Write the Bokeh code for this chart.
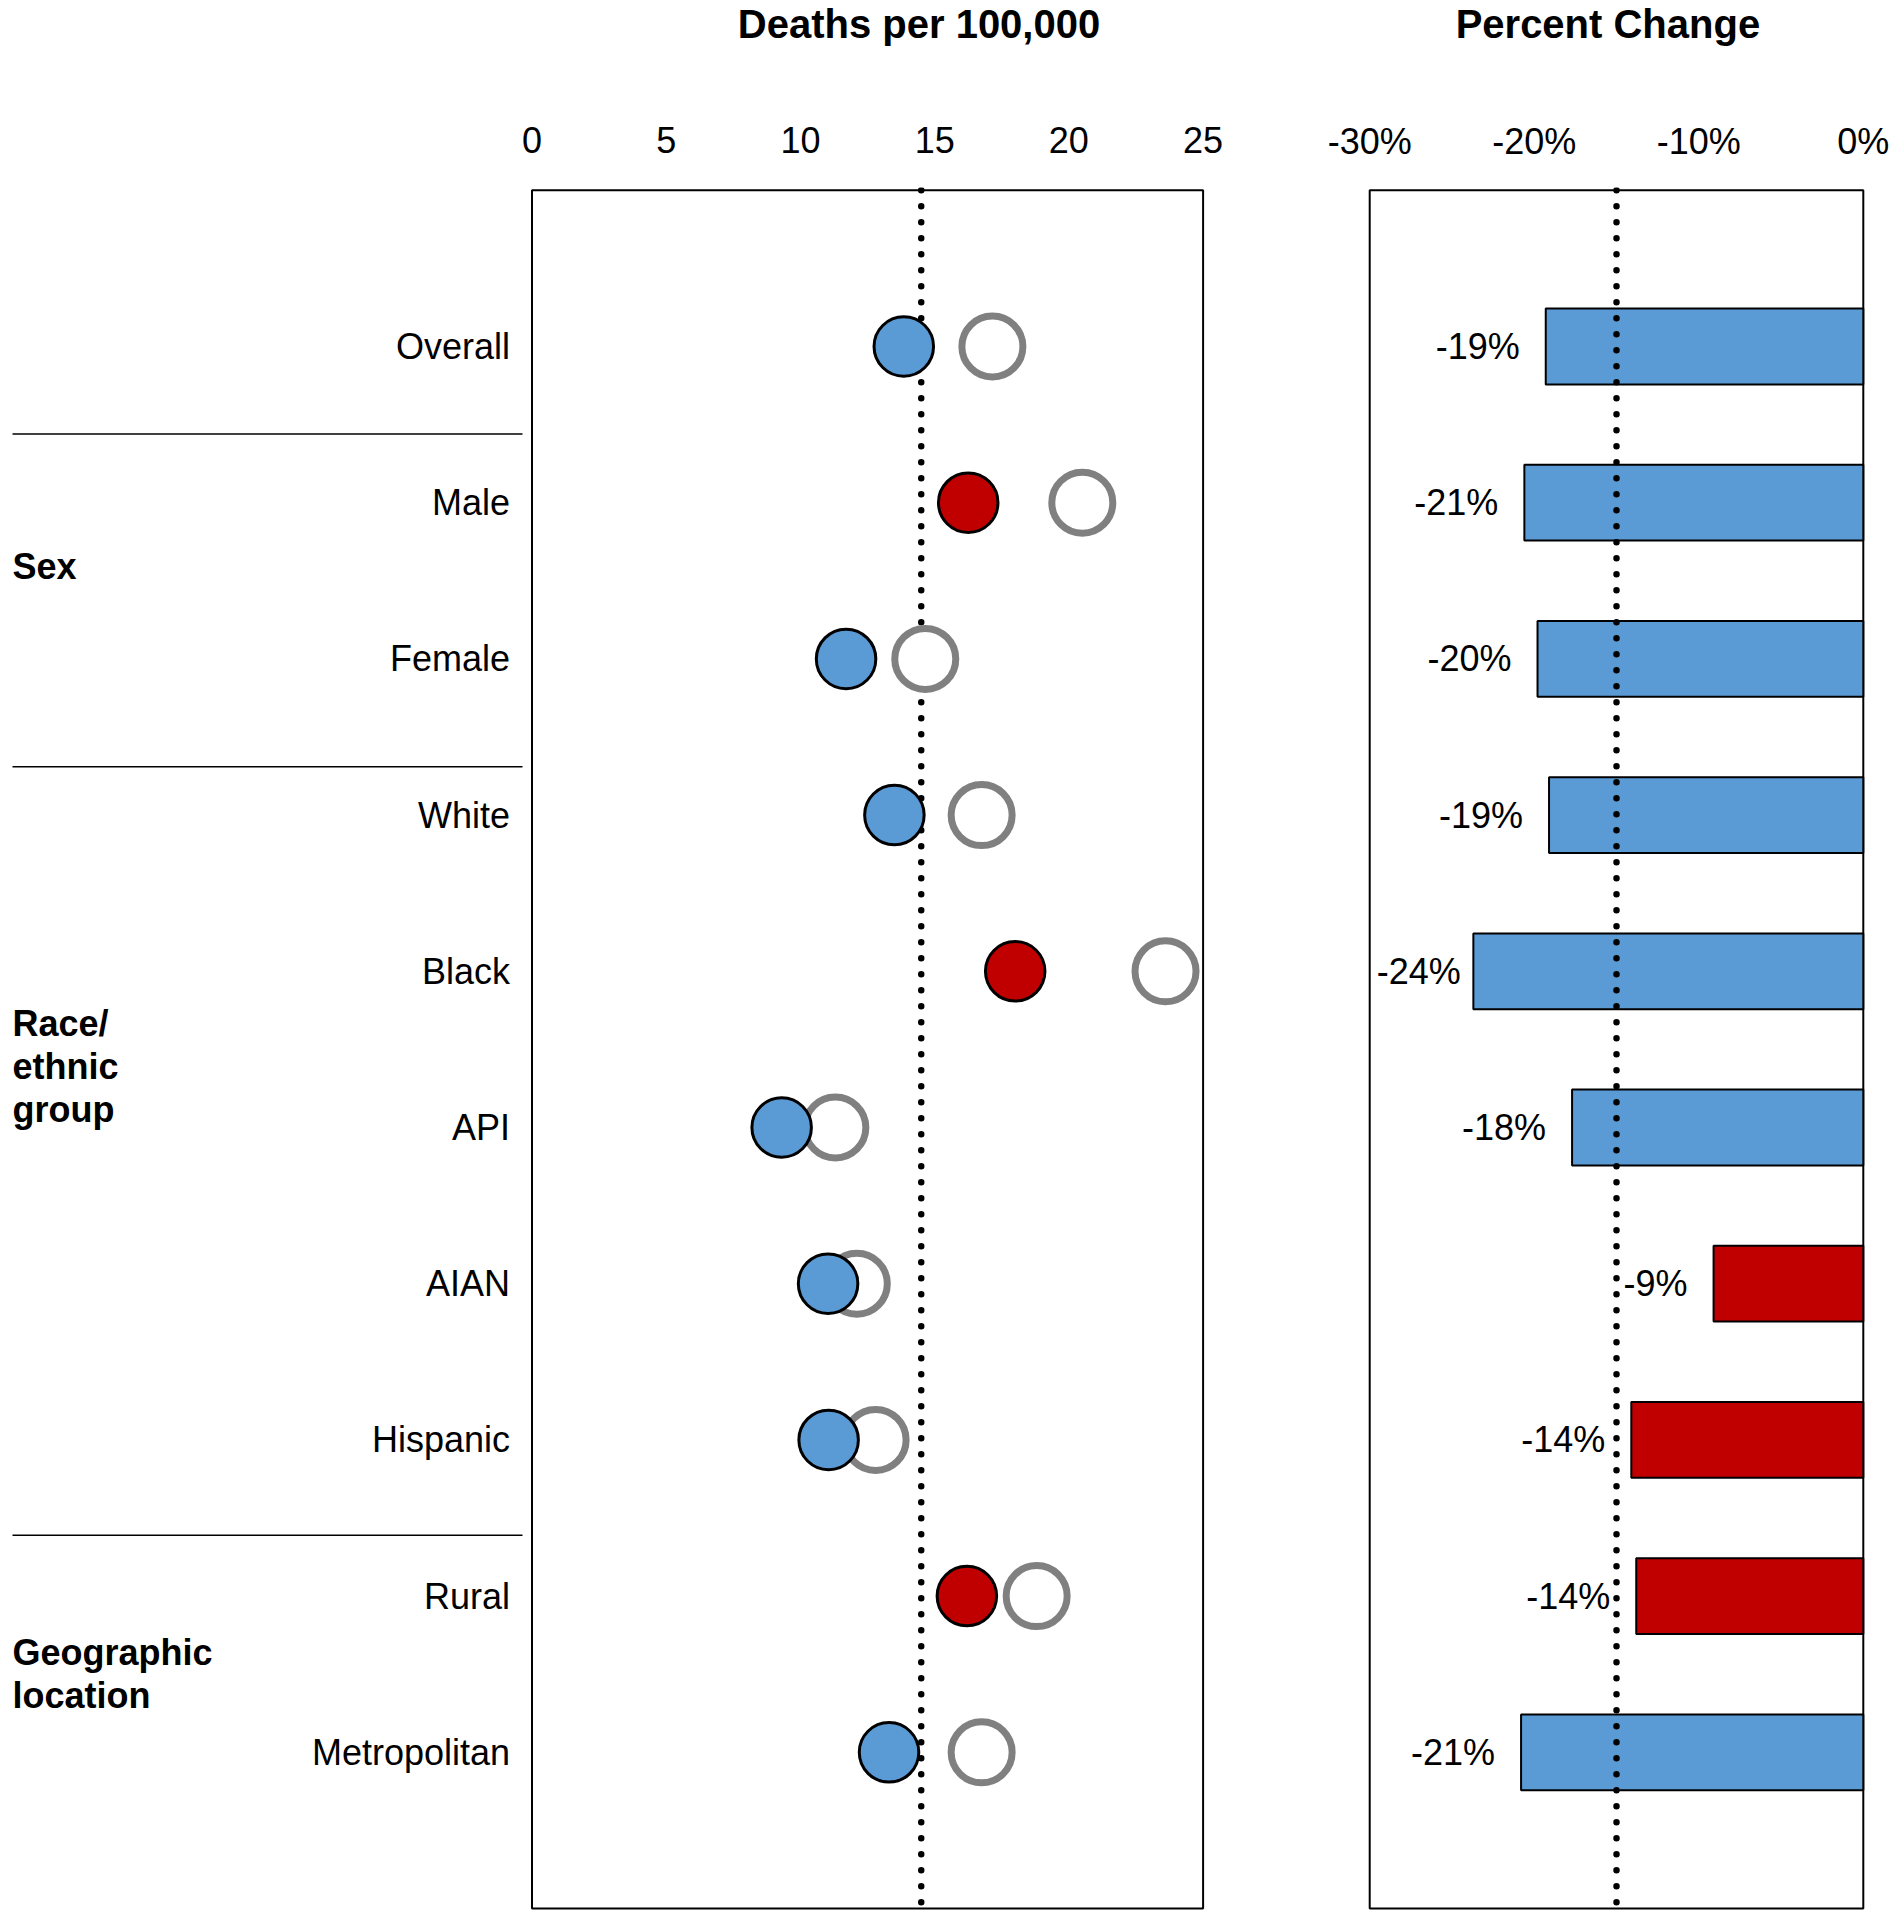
from bokeh.plotting import figure
from bokeh.models import Range1d, FixedTicker, PrintfTickFormatter, ColumnDataSource
from bokeh.layouts import row, column
from bokeh.embed import file_html
from bokeh.resources import INLINE
from bokeh.core.properties import value

# ---------------- data ----------------
categories = ["Overall", "Male", "Female", "White", "Black", "API", "AIAN",
              "Hispanic", "Rural", "Metropolitan"]
rate_recent = [13.85, 16.25, 11.7, 13.5, 18.0, 9.3, 11.03, 11.05, 16.2, 13.3]
rate_earlier = [17.15, 20.5, 14.65, 16.75, 23.6, 11.3, 12.1, 12.8, 18.8, 16.75]
pct_change = [-19.3, -20.6, -19.8, -19.1, -23.7, -17.7, -9.1, -14.1, -13.8, -20.8]
rate_reference = 14.5
pct_reference = -15
rate_ticks = [0, 5, 10, 15, 20, 25]
pct_ticks = [-30, -20, -10, 0]
group_labels = ["Sex", "Race/\nethnic\ngroup", "Geographic\nlocation"]
titles = ["Deaths per 100,000", "Percent Change"]

# ---------------- layout constants (page pixels) ----------------
GROUP_LABEL_ROWS = [1.41, 4.61, 8.5]
SEPARATOR_ROWS = [0.56, 2.69, 7.61]
BLUE, RED, GRAY = "#5B9BD5", "#C00000", "#808080"
FONT = "Liberation Sans"
PAGE_W = 1897
TITLE_H = 60                    # height of the title strip
TITLE_CX = [918.5, 1607.4]      # page x of title centres
TITLE_CY = 23                   # page y of title centres
BOX_TOP, BOX_BOTTOM = 189.8, 1908.0
FRAME_TOP, FRAME_BOTTOM = 187, 1910
L_FRAME_L, L_FRAME_R = 8, 1206
L_ZERO, L_MAX = 531.5, 1202.6
R_FRAME_L, R_FRAME_R = 1366, 1866
R_MIN, R_ZERO = 1369.2, 1862.8
L_BORDER_R = 40
R_BORDER_R = PAGE_W - R_FRAME_R
SEP_X0, SEP_X1 = 12, 522
GROUP_X = 12

n = len(categories)
rows = list(range(n))

ppr = (BOX_BOTTOM - BOX_TOP) / (n + 1)
y_top = -1 - (BOX_TOP - FRAME_TOP) / ppr
y_bot = n + (FRAME_BOTTOM - BOX_BOTTOM) / ppr

lppu = (L_MAX - L_ZERO) / (rate_ticks[-1] - rate_ticks[0])
def lx(px):
    return rate_ticks[0] + (px - L_ZERO) / lppu

rppu = (R_ZERO - R_MIN) / (pct_ticks[-1] - pct_ticks[0])
def rx(px):
    return pct_ticks[0] + (px - R_MIN) / rppu

def base_fig(xr, fw, mbl, mbr, standoff, ticks):
    p = figure(frame_width=fw, frame_height=FRAME_BOTTOM - FRAME_TOP,
               x_range=xr, y_range=Range1d(y_bot, y_top),
               x_axis_location="above", y_axis_location=None,
               output_backend="svg", toolbar_location=None, title=None,
               min_border_left=mbl, min_border_right=mbr,
               min_border_top=FRAME_TOP - TITLE_H, min_border_bottom=0)
    p.outline_line_color = None
    p.xgrid.visible = False
    p.ygrid.visible = False
    p.background_fill_color = "white"
    p.border_fill_color = "white"
    ax = p.xaxis[0]
    ax.ticker = FixedTicker(ticks=ticks)
    ax.axis_line_color = None
    ax.major_tick_line_color = None
    ax.minor_tick_line_color = None
    ax.major_label_text_font = FONT
    ax.major_label_text_font_size = "36px"
    ax.major_label_text_color = "black"
    ax.major_label_standoff = int(standoff)
    return p

# ---------------- title strip ----------------
pt = figure(frame_width=PAGE_W, frame_height=TITLE_H, x_range=Range1d(0, PAGE_W),
            y_range=Range1d(TITLE_H, 0), output_backend="svg", toolbar_location=None,
            title=None, x_axis_location=None, y_axis_location=None,
            min_border_left=0, min_border_right=0, min_border_top=0, min_border_bottom=0)
pt.outline_line_color = None
pt.xgrid.visible = False
pt.ygrid.visible = False
pt.background_fill_color = "white"
pt.border_fill_color = "white"
pt.text(x=TITLE_CX, y=[TITLE_CY] * len(titles), text=titles,
        text_font=value(FONT), text_font_size="40px", text_font_style="bold",
        text_align="center", text_baseline="middle", text_color="black")

# ---------------- left panel: rates ----------------
p1 = base_fig(Range1d(lx(L_FRAME_L), lx(L_FRAME_R)), L_FRAME_R - L_FRAME_L,
              L_FRAME_L, L_BORDER_R, 29, rate_ticks)

p1.quad(left=[rate_ticks[0]], right=[rate_ticks[-1]], top=[-1], bottom=[n],
        fill_color=None, line_color="black", line_width=2)
p1.segment(x0=[rate_reference], y0=[-1], x1=[rate_reference], y1=[n],
           line_color="black", line_width=6.5, line_dash="0 16", line_cap="round")
p1.segment(x0=[lx(SEP_X0)] * len(SEPARATOR_ROWS), y0=SEPARATOR_ROWS,
           x1=[lx(SEP_X1)] * len(SEPARATOR_ROWS), y1=SEPARATOR_ROWS,
           line_color="black", line_width=1.5)

dot_colors = [RED if v > rate_reference else BLUE for v in rate_recent]
p1.scatter(x=rate_earlier, y=rows, size=61, marker="circle",
           fill_color="white", line_color=GRAY, line_width=7)
p1.scatter(x=rate_recent, y=rows, size=59.5, marker="circle",
           fill_color=dot_colors, line_color="black", line_width=3)

p1.text(x=[rate_ticks[0]] * n, y=rows, text=categories, x_offset=-22,
        text_font=value(FONT), text_font_size="36px", text_align="right",
        text_baseline="middle", text_color="black")
p1.text(x=[lx(GROUP_X)] * len(group_labels), y=GROUP_LABEL_ROWS, text=group_labels,
        text_font=value(FONT), text_font_size="36px", text_font_style="bold",
        text_align="left", text_baseline="middle", text_line_height=1.05,
        text_color="black")

# ---------------- right panel: percent change ----------------
r_canvas_left = L_FRAME_R + L_BORDER_R
p2 = base_fig(Range1d(rx(R_FRAME_L), rx(R_FRAME_R)), R_FRAME_R - R_FRAME_L,
              R_FRAME_L - r_canvas_left, R_BORDER_R, 20, pct_ticks)
p2.xaxis[0].formatter = PrintfTickFormatter(format="%d%%")

p2.quad(left=[pct_ticks[0]], right=[pct_ticks[-1]], top=[-1], bottom=[n],
        fill_color=None, line_color="black", line_width=2)

bar_colors = [RED if v > pct_reference else BLUE for v in pct_change]
p2.hbar(y=rows, left=pct_change, right=0, height=0.485,
        fill_color=bar_colors, line_color="black", line_width=2)
p2.segment(x0=[pct_reference], y0=[-1], x1=[pct_reference], y1=[n],
           line_color="black", line_width=6.5, line_dash="0 16", line_cap="round")

CW = {"-": 0.333, "%": 0.889}
labels = ["%d%%" % round(v) for v in pct_change]
right_src = dict(x=[], y=[], t=[])
left_src = dict(x=[], y=[], t=[])
for v, yv, t in zip(pct_change, rows, labels):
    w = sum(CW.get(c, 0.556) for c in t) * 36
    bar_left_px = R_ZERO + v * rppu
    if bar_left_px - 26 - w < R_MIN + 7:
        left_src["x"].append(pct_ticks[0]); left_src["y"].append(yv); left_src["t"].append(t)
    else:
        right_src["x"].append(v); right_src["y"].append(yv); right_src["t"].append(t)
p2.text(x="x", y="y", text="t", source=ColumnDataSource(right_src), x_offset=-26,
        text_font=value(FONT), text_font_size="36px", text_align="right",
        text_baseline="middle", text_color="black")
p2.text(x="x", y="y", text="t", source=ColumnDataSource(left_src), x_offset=7,
        text_font=value(FONT), text_font_size="36px", text_align="left",
        text_baseline="middle", text_color="black")

layout = column(pt, row(p1, p2, spacing=0), spacing=0)
open("out.html", "w").write(file_html(layout, INLINE))
